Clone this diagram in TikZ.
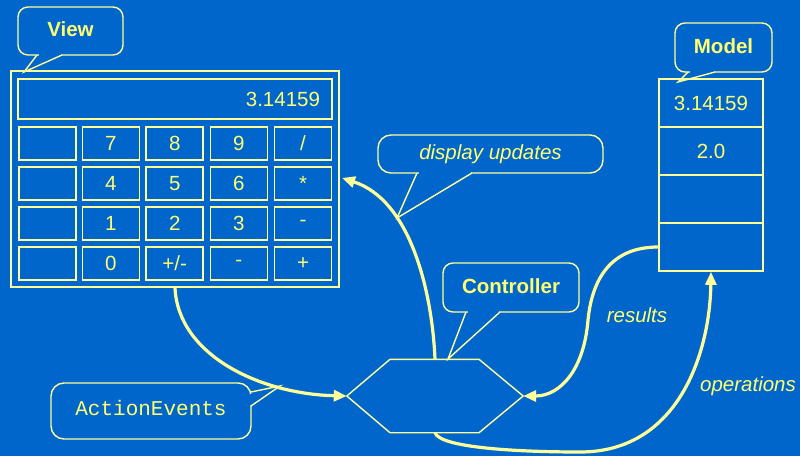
\documentclass[tikz,border=0pt]{standalone}
\usepackage{fontspec}
\setmainfont{Liberation Sans}
\newfontfamily\codefont{Liberation Mono}
\usetikzlibrary{arrows.meta}
\definecolor{bg}{HTML}{0066CC}
\definecolor{ink}{HTML}{FFFF99}
\definecolor{txt}{HTML}{FFFF70}

\begin{document}
\begin{tikzpicture}[x=1pt,y=-1pt,
  box/.style={draw=ink, line width=1.6pt, inner sep=0pt, text=txt,
              font=\fontsize{20.5}{24}\selectfont},
  key/.style={box, minimum width=57pt, minimum height=33pt},
  cell/.style={box, minimum width=104pt, minimum height=48pt},
  balloon/.style={draw=ink, line width=1.4pt, rounded corners=10pt, inner sep=0pt},
  tail/.style={draw=ink, line width=1.4pt, line join=miter},
  title/.style={balloon, text=txt, font=\bfseries\fontsize{20.5}{24}\selectfont},
  remark/.style={text=txt, font=\itshape\fontsize{20.5}{24}\selectfont},
  flow/.style={draw=ink, line width=3.2pt, -{Triangle[length=13pt,width=11pt]}}]

\fill[bg] (0,0) rectangle (800,456);
\useasboundingbox (0,0) rectangle (800,456);

% ---- calculator (view) ----
\node[box, minimum width=328pt, minimum height=216pt] (calc) at (175,179) {};
\node[box, minimum width=314pt, minimum height=40pt, text width=290pt, align=right]
  (disp) at (175,99) {3.14159};

\node[key] (k11) at (47.2,143.3) {};
\node[key] (k12) at (110.8,143.3) {7};
\node[key] (k13) at (174.7,143.3) {8};
\node[key] (k14) at (238.8,143.3) {9};
\node[key] (k15) at (303,143.3) {/};

\node[key] (k21) at (47.2,183.3) {};
\node[key] (k22) at (110.8,183.3) {4};
\node[key] (k23) at (174.7,183.3) {5};
\node[key] (k24) at (238.8,183.3) {6};
\node[key] (k25) at (303,183.3) {*};

\node[key] (k31) at (47.2,223.3) {};
\node[key] (k32) at (110.8,223.3) {1};
\node[key] (k33) at (174.7,223.3) {2};
\node[key] (k34) at (238.8,223.3) {3};
\node[key] (k35) at (303,223.3) {-};

\node[key] (k41) at (47.2,263.3) {};
\node[key] (k42) at (110.8,263.3) {0};
\node[key] (k43) at (174.7,263.3) {+/-};
\node[key] (k44) at (238.8,263.3) {-};
\node[key] (k45) at (303,263.3) {+};

% ---- model ----
\node[cell] (m1) at (711,103) {3.14159};
\node[cell] (m2) at (711,151) {2.0};
\node[cell] (m3) at (711,199) {};
\node[cell] (m4) at (711,247) {};

% ---- controller ----
\node[minimum width=176pt, minimum height=73pt, inner sep=0pt] (ctrl) at (435,396) {};
\draw[ink, line width=1.4pt]
  (ctrl.west) -- ([xshift=-45pt]ctrl.north) -- ([xshift=44pt]ctrl.north)
  -- (ctrl.east) -- ([xshift=44pt]ctrl.south) -- ([xshift=-45pt]ctrl.south) -- cycle;

% ---- flows ----
\coordinate (upd) at (342,178);
\draw[flow] (calc.south) .. controls (178,355) and (260,394) .. (ctrl.west);
\draw[flow] (ctrl.north) .. controls (432,290) and (410,200) .. (upd);
\draw[flow] (m4.west) .. controls (610,247) and (592,280) .. (588,320)
  .. controls (584,370) and (560,396) .. (ctrl.east);
\draw[flow] (ctrl.south) .. controls (440,448) and (520,452) .. (580,452)
  .. controls (680,452) and (710,350) .. (m4.south);

\node[remark] (res) at (637,315) {results};
\node[remark] (ops) at (748,386) {operations};

% ---- balloons ----
\node[title, minimum width=105pt, minimum height=48pt] (viewtag) at (70.5,31)
  {\raisebox{3pt}{View}};
\fill[bg] (38.5,53.5) rectangle (60.5,57);
\draw[tail] (37,55) -- (24,72) -- (62,55);

\node[title, minimum width=97pt, minimum height=49pt] (modeltag) at (723.5,47.5)
  {\raisebox{2.5pt}{Model}};
\fill[bg] (689.5,70.5) rectangle (713.5,74);
\draw[tail] (688,72) -- (678,82) -- (715,72);

\node[title, minimum width=136pt, minimum height=49pt] (ctrltag) at (511,287.5)
  {\raisebox{3pt}{Controller}};
\fill[bg] (467.5,310.5) rectangle (498.5,314);
\draw[tail] (466,312) -- (448,359) -- (500,312);

\node[balloon, remark, rounded corners=13pt, minimum width=225pt, minimum height=38pt]
  (updtag) at (490.5,154) {\raisebox{1pt}{display updates}};
\fill[bg] (418.5,171.5) rectangle (470.5,175);
\draw[tail] (417,173) -- (397,218) -- (472,173);

\node[balloon, text=txt, font=\codefont\fontsize{21}{24}\selectfont,
      rounded corners=13pt, minimum width=200pt, minimum height=56pt] (evtag) at (151,411)
  {\raisebox{6pt}{ActionEvents}};
\fill[bg] (249.5,393.5) rectangle (253,404.5);
\draw[tail] (251,392) -- (280,386) -- (251,406);

\end{tikzpicture}
\end{document}
